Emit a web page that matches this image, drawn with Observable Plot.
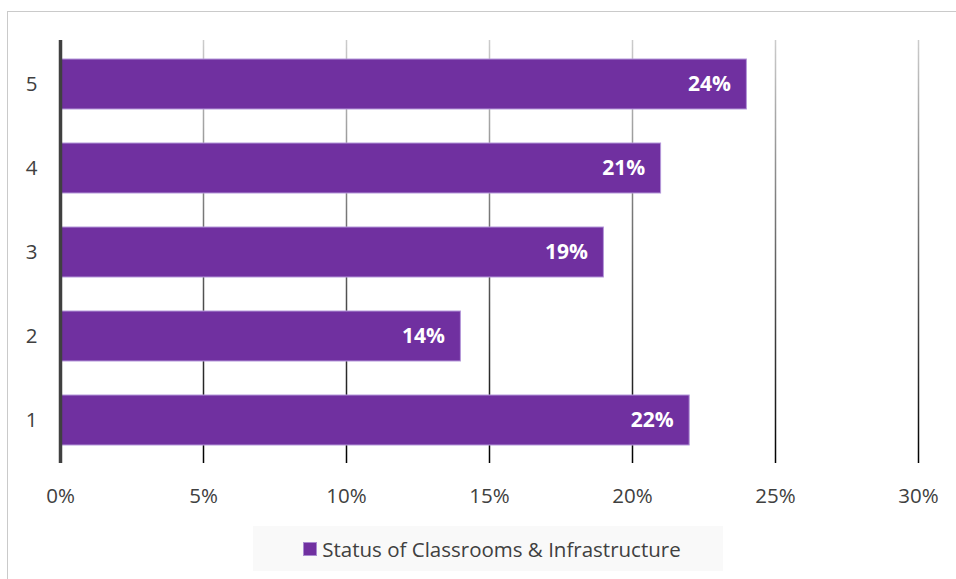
<!DOCTYPE html>
<html><head><meta charset="utf-8">
<script src="https://cdn.jsdelivr.net/npm/d3@7"></script>
<script src="https://cdn.jsdelivr.net/npm/@observablehq/plot@0.6"></script>
<style>
body{margin:0;background:#fff;font-family:"Open Sans",sans-serif;}
#wrap{position:relative;width:956px;height:579px;overflow:hidden;background:#fff;}
#frame{position:absolute;left:7px;top:11px;width:1000px;height:1000px;border:1px solid #cacaca;box-sizing:border-box;}
#chart{position:absolute;left:0;top:0;}
#legend{position:absolute;left:253px;top:526px;width:470px;height:45px;background:#f9f9f9;display:flex;align-items:center;justify-content:center;font-size:20.5px;color:#404040;padding-left:8px;box-sizing:border-box;}
#legend .sw{display:inline-block;width:12px;height:12px;background:#7030A0;border:1px solid #a98bd0;margin-right:5px;}
</style>
</head><body>
<div id="wrap"><div id="frame"></div><div id="chart"></div>
<div id="legend"><span class="sw"></span><span id="legname"></span></div></div>
<script>
const categories = ["1","2","3","4","5"];
const values = [0.22, 0.14, 0.19, 0.21, 0.24];
const xTicks = [0, 0.05, 0.10, 0.15, 0.20, 0.25, 0.30];
const seriesName = "Status of Classrooms & Infrastructure";

const data = categories.map((c, i) => ({cat: c, v: values[i]}));
const fmt = d => Math.round(d * 100) + "%";

const plot = Plot.plot({
  width: 956, height: 520,
  marginLeft: 60, marginRight: 38, marginTop: 40, marginBottom: 57,
  style: {background: "transparent", fontFamily: "Open Sans, sans-serif", color: "#404040"},
  x: {domain: [0, 0.30], ticks: xTicks, tickFormat: fmt},
  y: {domain: categories.slice().reverse(), paddingInner: 0.41, paddingOuter: 0.2},
  marks: [
    Plot.ruleX(xTicks.slice(1), {stroke: "url(#gridgrad)", strokeWidth: 1.5}),
    Plot.barX(data, {y: "cat", x: "v", fill: "#7030A0", stroke: "#b497d9", strokeWidth: 1}),
    Plot.text(data, {y: "cat", x: "v", text: d => fmt(d.v), textAnchor: "end", dx: -16, fill: "white", fontWeight: "bold", fontSize: 21}),
    Plot.axisX({ticks: xTicks, tickFormat: fmt, tickSize: 0, tickPadding: 25, fontSize: 20.5, label: null, fill: "#404040"}),
    Plot.axisY({tickSize: 0, tickPadding: 23, fontSize: 20.5, label: null, fill: "#404040"}),
    Plot.ruleX([0], {stroke: "#404040", strokeWidth: 3.5})
  ]
});

const svg = d3.select(plot);
const defs = svg.insert("defs", ":first-child");
const g = defs.append("linearGradient").attr("id", "gridgrad")
  .attr("gradientUnits", "userSpaceOnUse").attr("x1", 0).attr("y1", 40).attr("x2", 0).attr("y2", 463);
g.append("stop").attr("offset", "0").attr("stop-color", "#cccccc");
g.append("stop").attr("offset", "1").attr("stop-color", "#000000");

document.getElementById("chart").appendChild(plot);
document.getElementById("legname").textContent = seriesName;
</script>
</body></html>
